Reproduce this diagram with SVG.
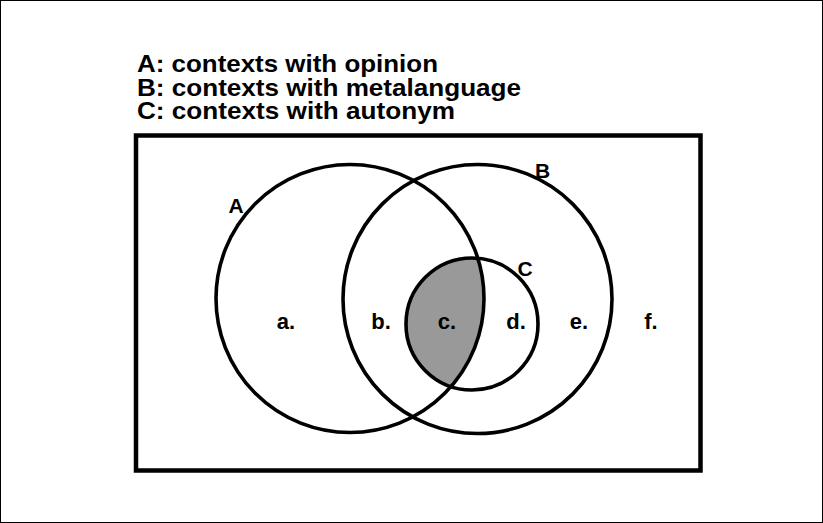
<svg xmlns="http://www.w3.org/2000/svg" width="823" height="523" viewBox="0 0 823 523">
  <style>
    .set { fill: none; stroke: #000; stroke-width: 3.6; }
    .lbl { font-family: "Liberation Sans", Arial, sans-serif; font-weight: bold; fill: #000; }
    .legend { font-size: 24px; }
    .setname { font-size: 21px; text-anchor: middle; }
    .region { font-size: 22px; text-anchor: middle; }
  </style>
  <defs>
    <clipPath id="clipA">
      <circle cx="350" cy="298.5" r="134"/>
    </clipPath>
  </defs>
  <rect x="0.5" y="0.5" width="822" height="522" fill="#fff" stroke="#000" stroke-width="1"/>
  <g id="legend" class="lbl legend">
    <text x="137" y="72" textLength="301" lengthAdjust="spacingAndGlyphs">A: contexts with opinion</text>
    <text x="137" y="95.5" textLength="384" lengthAdjust="spacingAndGlyphs">B: contexts with metalanguage</text>
    <text x="137" y="119" textLength="318" lengthAdjust="spacingAndGlyphs">C: contexts with autonym</text>
  </g>
  <g id="universe">
    <rect x="136" y="135.5" width="564.5" height="335" fill="none" stroke="#000" stroke-width="4.5"/>
  </g>
  <g id="region-c-shade">
    <circle cx="472" cy="324" r="66" fill="#999999" clip-path="url(#clipA)"/>
  </g>
  <g id="setA">
    <circle class="set" cx="350" cy="298.5" r="134"/>
    <text class="lbl setname" x="236" y="213">A</text>
  </g>
  <g id="setB">
    <circle class="set" cx="477.5" cy="299" r="134.5"/>
    <text class="lbl setname" x="542.5" y="178">B</text>
  </g>
  <g id="setC">
    <circle class="set" cx="472" cy="324" r="66"/>
    <text class="lbl setname" x="525" y="276">C</text>
  </g>
  <g id="regions" class="lbl region">
    <text x="286" y="329">a.</text>
    <text x="381" y="329">b.</text>
    <text x="447" y="329">c.</text>
    <text x="516" y="329">d.</text>
    <text x="579" y="329">e.</text>
    <text x="651" y="329">f.</text>
  </g>
</svg>
